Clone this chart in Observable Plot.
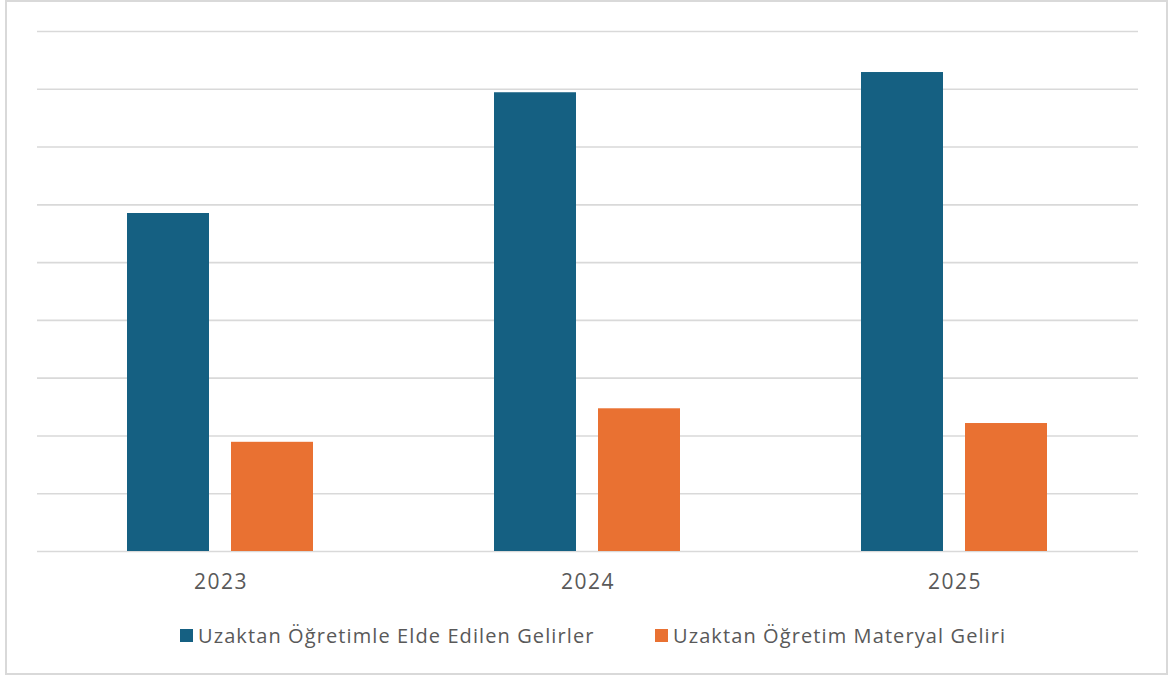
<!DOCTYPE html>
<html>
<head>
<meta charset="utf-8">
<script src="https://cdn.jsdelivr.net/npm/d3@7"></script>
<script src="https://cdn.jsdelivr.net/npm/@observablehq/plot@0.6"></script>
<style>
  html, body { margin: 0; padding: 0; background: #fff; }
  body { width: 1174px; height: 675px; position: relative; overflow: hidden; font-family: "Open Sans", sans-serif; }
  #frame { position: absolute; left: 5px; top: 0; width: 1163px; height: 675px; box-sizing: border-box; border: 2px solid #d9d9d9; pointer-events: none; }
  #chart { position: absolute; left: 0; top: 0; }
  .legend-item { position: absolute; top: 622px; display: flex; align-items: center; font-size: 20px; letter-spacing: 1.1px; color: #595959; white-space: nowrap; }
  .swatch { width: 13px; height: 13px; margin-right: 5px; }
  .fxaxis text { letter-spacing: 1.5px; }
</style>
</head>
<body>
<div id="chart"></div>
<div id="frame"></div>
<div id="legend"></div>
<script>
const years = ["2023", "2024", "2025"];
const series = ["Uzaktan Öğretimle Elde Edilen Gelirler", "Uzaktan Öğretim Materyal Geliri"];
const incomeValues = [5.85, 7.94, 8.29];
const materialValues = [1.89, 2.47, 2.215];
const gridValues = [0, 1, 2, 3, 4, 5, 6, 7, 8, 9];
const colors = ["#156082", "#E97132"];

const data = [];
years.forEach((y, i) => {
  data.push({year: y, series: series[0], value: incomeValues[i]});
  data.push({year: y, series: series[1], value: materialValues[i]});
});

const chart = Plot.plot({
  width: 1174,
  height: 600,
  marginLeft: 36,
  marginRight: 36,
  marginTop: 31,
  marginBottom: 49,
  style: {fontFamily: "Open Sans, sans-serif", background: "transparent"},
  fx: {domain: years, padding: 0, label: null},
  x: {domain: series, axis: null, paddingInner: 0.2115, paddingOuter: 0.86},
  y: {domain: [0, 9], axis: null},
  color: {domain: series, range: colors},
  marks: [
    Plot.ruleY(gridValues, {stroke: "#d9d9d9", strokeWidth: 1.6}),
    Plot.barY(data, {fx: "year", x: "series", y: "value", fill: "series"}),
    Plot.axisFx({anchor: "bottom", tickSize: 0, tickPadding: 23, fontSize: 21, fill: "#595959", label: null, className: "fxaxis"})
  ]
});
document.getElementById("chart").appendChild(chart);

const legend = document.getElementById("legend");
const lefts = [180, 655];
series.forEach((s, i) => {
  const item = document.createElement("div");
  item.className = "legend-item";
  item.style.left = lefts[i] + "px";
  const sw = document.createElement("span");
  sw.className = "swatch";
  sw.style.background = colors[i];
  const t = document.createElement("span");
  t.textContent = s;
  item.appendChild(sw);
  item.appendChild(t);
  legend.appendChild(item);
});
</script>
</body>
</html>
